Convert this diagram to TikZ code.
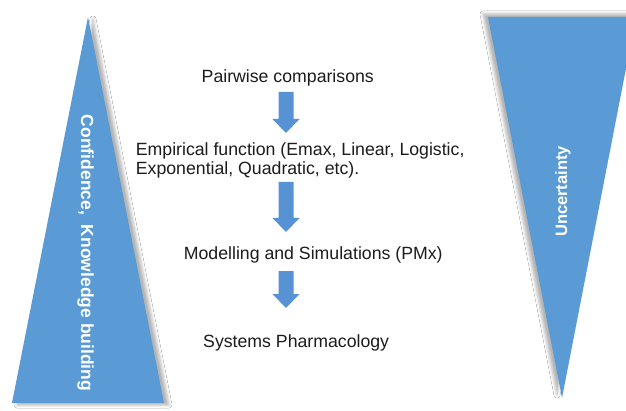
\documentclass[tikz,border=0pt]{standalone}
\usepackage{fontspec}
\setmainfont{Liberation Sans}
\usetikzlibrary{calc,shadows.blur}
\definecolor{triblue}{RGB}{91,155,213}
\definecolor{arrowblue}{RGB}{86,146,212}
\definecolor{ink}{RGB}{28,28,28}

\begin{document}
\begin{tikzpicture}[x=1pt,y=1pt,
  wedge/.style={fill=triblue, draw=none},
  steptext/.style={text=ink, font=\fontsize{17.7}{19}\selectfont,
    inner sep=0pt, anchor=base west, align=left},
  wedgetext/.style={text=white, font=\bfseries\fontsize{17.5}{20}\selectfont,
    inner sep=0pt},
  blockarrow/.style={fill=arrowblue, draw=none, to path={
    let \p1=(\tikztostart), \p2=(\tikztotarget) in
    (\x1-7.5pt,\y1) -- (\x1+7.5pt,\y1) -- (\x1+7.5pt,\y2+14pt)
    -- (\x1+13.5pt,\y2+14pt) -- (\x2,\y2) -- (\x1-13.5pt,\y2+14pt)
    -- (\x1-7.5pt,\y2+14pt) -- cycle}}
]
\useasboundingbox (0,0) rectangle (626,410);

% the two wedges, the right one running off the edge
\begin{scope}
  \clip (0,0) rectangle (626,410);
  \fill[white] (0,0) rectangle (626,410);
  \path[wedge, blur shadow={shadow xshift=5pt, shadow yshift=-2pt,
      shadow blur radius=3pt, shadow opacity=30}]
    (88,393) -- (164,7) -- (12,7) -- cycle;
  \path[wedge, blur shadow={shadow xshift=-5pt, shadow yshift=3pt,
      shadow blur radius=3pt, shadow opacity=30}]
    (488,393) -- (636,393) -- (562,12) -- cycle;
\end{scope}

\node[wedgetext, rotate=-90] (conf) at (85.5,157) {Confidence,~~Knowledge building};
\node[wedgetext, font=\bfseries\fontsize{16.5}{18}\selectfont, rotate=90]
  (unc) at (562.8,218.5) {Uncertainty};

% the chain of steps
\node[steptext] (pair) at (201.5,327.5) {Pairwise comparisons};
\node[steptext] (emp) at (135.7,235)
  {Empirical function (Emax, Linear, Logistic,\\Exponential, Quadratic, etc).};
\node[steptext] (model) at (183.7,151) {Modelling and Simulations (PMx)};
\node[steptext] (sys) at (203,63) {Systems Pharmacology};

\coordinate (a1s) at (286,318);
\coordinate (a1e) at (286,277);
\coordinate (a2s) at (286,228);
\coordinate (a2e) at (286,178);
\coordinate (a3s) at (286,139);
\coordinate (a3e) at (286,102);

\path[blockarrow] (a1s) to (a1e);
\path[blockarrow] (a2s) to (a2e);
\path[blockarrow] (a3s) to (a3e);
\end{tikzpicture}
\end{document}
